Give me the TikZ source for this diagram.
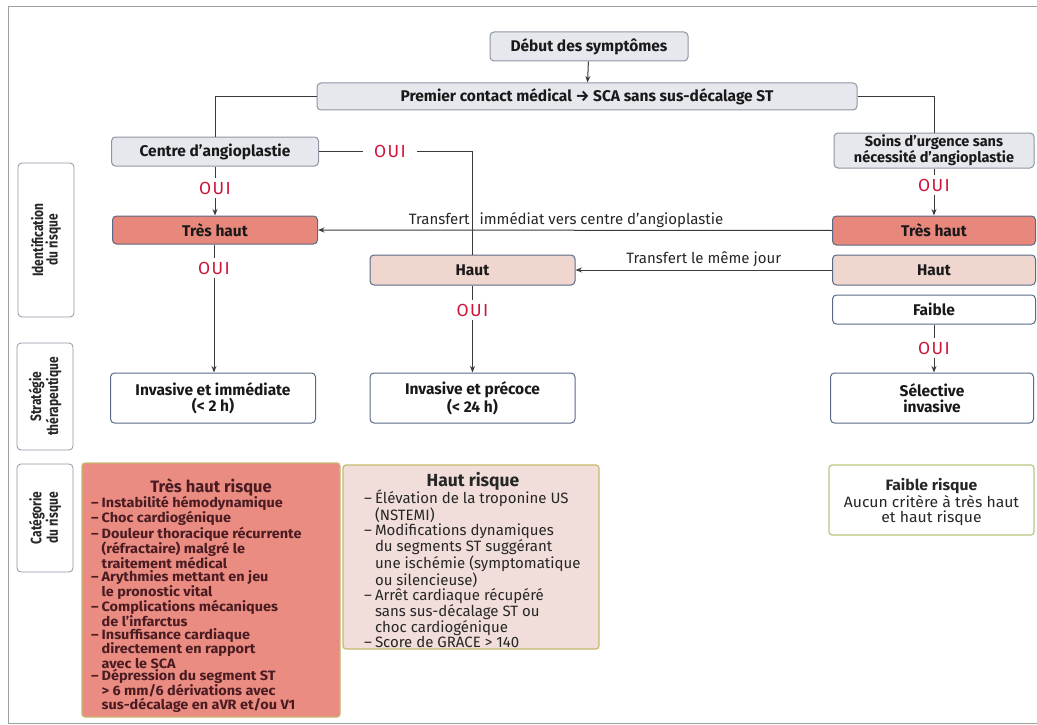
\documentclass[tikz,border=0pt]{standalone}
\usepackage{fontspec}
\setmainfont{Fira Sans}
\usetikzlibrary{arrows.meta}
\definecolor{gfill}{HTML}{E6E8EE}
\definecolor{gline}{HTML}{8E95A2}
\definecolor{bline}{HTML}{5A6A86}
\definecolor{thfill}{HTML}{E8877B}
\definecolor{hfill}{HTML}{EFD6CF}
\definecolor{ouired}{HTML}{CF1237}
\definecolor{c1fill}{HTML}{EA8C82}
\definecolor{c2fill}{HTML}{F1DEDA}
\definecolor{cline}{HTML}{C6B96E}
\definecolor{c3line}{HTML}{BCC47E}
\definecolor{c1text}{HTML}{4A1C22}
\definecolor{frame}{HTML}{A0A0A0}
\definecolor{conn}{HTML}{3A3A3A}
\newcommand{\ind}{\phantom{–}\hspace{3pt}}
\newcommand{\dsh}{–\hspace{3pt}}
\newcommand{\tightlines}{\lineskiplimit=-20pt\relax\lineskip=0pt\relax}
\begin{document}
\begin{tikzpicture}[x=1pt,y=-1pt,
  base/.style={rounded corners=4pt, line width=1pt, inner sep=0pt, align=center, text=black!90,
    font=\fontsize{15.5}{16}\selectfont\bfseries},
  gbox/.style={base, draw=gline, fill=gfill},
  thbox/.style={base, draw=bline, fill=thfill},
  hbox/.style={base, draw=bline, fill=hfill},
  wbox/.style={base, draw=bline, fill=white},
  sidebox/.style={rounded corners=4pt, line width=0.8pt, draw=gline, fill=white, minimum width=56pt},
  sidetext/.style={rotate=90, align=center, inner sep=0pt, text=black!85,
    font=\fontsize{15}{14.5}\selectfont\bfseries\addfontfeatures{FakeStretch=0.8}},
  oui/.style={text=ouired, font=\fontsize{17.5}{17.5}\selectfont\addfontfeatures{LetterSpace=8}, inner xsep=0pt, inner ysep=4pt},
  conn/.style={draw=conn, line width=1pt},
  arr/.style={conn, -{Stealth[length=6.5pt,width=5pt]}},
  lbl/.style={font=\fontsize{15}{16}\selectfont, text=black!85, inner sep=2.5pt},
  catlist/.style={anchor=north west, inner sep=0pt, align=left},
]
\useasboundingbox (0,0) rectangle (1037,725);
% frame
\draw[frame, line width=1pt] (1037,7) -- (8,7) -- (8,723) -- (1037,723);

% top boxes
\node[gbox, minimum width=198pt, minimum height=29pt] (debut) at (589,46.5) {Début des symptômes};
\node[gbox, minimum width=540pt, minimum height=27pt] (premier) at (587,96.5) {Premier contact médical → SCA sans sus-décalage ST};
\node[gbox, minimum width=207pt, minimum height=29pt] (centre) at (215,151.5) {Centre d’angioplastie};
\node[gbox, minimum width=200pt, minimum height=35pt, font=\fontsize{14.5}{14}\selectfont\bfseries] (soins) at (934,150.5) {Soins d’urgence sans\\nécessité d’angioplastie};

% risk boxes
\node[thbox, minimum width=205pt, minimum height=28pt] (th1) at (215,230) {Très haut};
\node[thbox, minimum width=203pt, minimum height=29pt] (th2) at (934,230.5) {Très haut};
\node[hbox, minimum width=205pt, minimum height=30pt] (h1) at (472.5,270) {Haut};
\node[hbox, minimum width=203pt, minimum height=30pt] (h2) at (934,270) {Haut};
\node[wbox, minimum width=203pt, minimum height=29pt] (faible) at (934,309.5) {Faible};

% strategy boxes
\node[wbox, minimum width=205pt, minimum height=50pt] (inv1) at (213,398) {Invasive et immédiate\\(< 2 h)};
\node[wbox, minimum width=205pt, minimum height=50pt] (inv2) at (472.5,398) {Invasive et précoce\\(< 24 h)};
\node[wbox, minimum width=203pt, minimum height=50pt] (sel) at (932,398) {Sélective\\invasive};

% OUI labels
\node[oui, inner xsep=11pt] (o1) at (390,151.5) {OUI};
\node[oui] (o2) at (215,188) {OUI};
\node[oui] (o3) at (934,185) {OUI};
\node[oui] (o4) at (214,268) {OUI};
\node[oui] (o5) at (472.5,310) {OUI};
\node[oui] (o6) at (934,348) {OUI};

% connectors
\draw[arr] (debut) -- (premier);
\draw[conn] (premier.west) -| (centre.north);
\draw[conn] (premier.east) -| (soins.north);
\draw[conn] (centre.east) -- (o1.west);
\draw[conn] (o1.east) -| (h1.north);
\draw[conn] (centre.south) -- (o2.north);
\draw[arr] (o2.south) -- (th1.north);
\draw[conn] (soins.south) -- (o3.north);
\draw[arr] (o3.south) -- (th2.north);
\draw[conn] (o4.north |- th1.south) -- (o4.north);
\draw[arr] (o4.south) -- (o4.south |- inv1.north);
\draw[conn] (h1.south) -- (o5.north);
\draw[arr] (o5.south) -- (inv2.north);
\draw[conn] (faible.south) -- (o6.north);
\draw[arr] (o6.south) -- (o6.south |- sel.north);
\draw[arr] (th2.west) -- node[lbl, above, xshift=-9pt] {Transfert\hspace{10pt}immédiat vers centre d’angioplastie} (th1.east);
\draw[arr] (h2.west) -- node[lbl, above] {Transfert le même jour} (h1.east);

% side labels
\node[sidebox, minimum height=154pt] (s1) at (46,240) {};
\node[sidetext] (s1t) at (s1.center) {Identification\\du risque};
\node[sidebox, minimum height=107pt] (s2) at (45,396.5) {};
\node[sidetext] (s2t) at (s2.center) {Stratégie\\thérapeutique};
\node[sidebox, minimum height=108pt] (s3) at (45,518) {};
\node[sidetext] (s3t) at (s3.center) {Catégorie\\du risque};

% category boxes
\node[rounded corners=3pt, line width=1.2pt, draw=cline, fill=c1fill, minimum width=258pt, minimum height=254pt] (c1) at (211,590) {};
\node[text=c1text, font=\fontsize{16.5}{16}\selectfont\bfseries, inner sep=0pt] (c1h) at (211,487) {Très haut risque};
\node[catlist, text=c1text, font=\fontsize{13.5}{12.5}\selectfont\bfseries\addfontfeatures{FakeStretch=1.07}] (c1l) at (91,496)
{\tightlines
\dsh Instabilité hémodynamique\\
\dsh Choc cardiogénique\\
\dsh Douleur thoracique récurrente\\
\ind (réfractaire) malgré le\\
\ind traitement médical\\
\dsh Arythmies mettant en jeu\\
\ind le pronostic vital\\
\dsh Complications mécaniques\\
\ind de l’infarctus\\
\dsh Insuffisance cardiaque\\
\ind directement en rapport\\
\ind avec le SCA\\
\dsh Dépression du segment ST\\
\ind > 6 mm/6 dérivations avec\\
\ind sus-décalage en aVR et/ou V1};

\node[rounded corners=3pt, line width=1.2pt, draw=cline, fill=c2fill, minimum width=256pt, minimum height=184pt] (c2) at (471,557) {};
\node[text=black!85, font=\fontsize{17.5}{17}\selectfont\bfseries, inner sep=0pt] (c2h) at (473,481) {Haut risque};
\node[catlist, text=black!85, font=\fontsize{15}{14.8}\selectfont] (c2l) at (364,490)
{\tightlines
\dsh Élévation de la troponine US\\
\ind (NSTEMI)\\
\dsh Modifications dynamiques\\
\ind du segments ST suggérant\\
\ind une ischémie (symptomatique\\
\ind ou silencieuse)\\
\dsh Arrêt cardiaque récupéré\\
\ind sans sus-décalage ST ou\\
\ind choc cardiogénique\\
\dsh Score de GRACE > 140};

\node[rounded corners=3pt, line width=1.2pt, draw=c3line, fill=white, minimum width=205pt, minimum height=70pt] (c3) at (931.5,500) {};
\node[align=center, inner sep=0pt, text=black!85, font=\fontsize{15}{15}\selectfont\addfontfeatures{FakeStretch=1.05}] (c3t) at (931.5,502)
{\textbf{Faible risque}\\Aucun critère à très haut\\et haut risque};
\end{tikzpicture}
\end{document}
